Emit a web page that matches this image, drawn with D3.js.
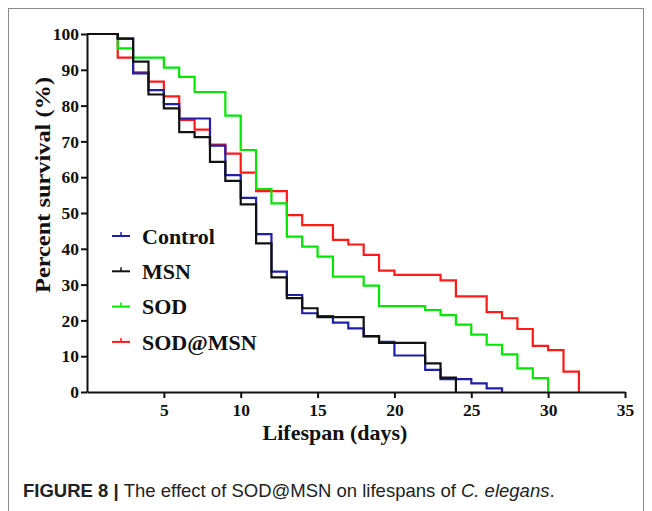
<!DOCTYPE html>
<html>
<head>
<meta charset="utf-8">
<script src="https://cdn.jsdelivr.net/npm/d3@7"></script>
<style>
  body { margin: 0; background: #fff; }
  .axis text { font-family: "Liberation Serif", "Times New Roman", serif; font-weight: bold; font-size: 17.5px; fill: #111; }
  .axis path, .axis line { stroke: #111; stroke-width: 2px; }
</style>
</head>
<body>
<div id="chart"></div>
<script>
// survival curves: [day, percent survival]
const control = [[0,100],[2,98.7],[3,89.0],[4,84.3],[5,80.4],[6,76.4],[8,68.8],[9,60.6],[10,54.2],[11,44.1],[12,33.6],[13,27.1],[14,22.0],[15,21.2],[16,19.4],[17,17.8],[18,15.5],[19,14.0],[20,10.2],[22,6.2],[23,3.6],[25,2.4],[26,1.0],[27,0]];
const msn = [[0,100],[2,98.7],[3,92.3],[4,83.1],[5,79.2],[6,72.6],[7,71.2],[8,64.3],[9,59.0],[10,52.4],[11,41.5],[12,32.0],[13,26.2],[14,23.4],[15,20.9],[18,15.6],[19,13.7],[22,8.0],[23,4.0],[24,0]];
const sod = [[0,100],[2,96.0],[3,93.4],[5,90.6],[6,88.0],[7,83.8],[9,77.2],[10,67.6],[11,56.7],[12,52.7],[13,43.4],[14,40.6],[15,37.8],[16,32.2],[18,29.7],[19,24.0],[22,22.9],[23,21.5],[24,18.8],[25,16.0],[26,13.2],[27,10.5],[28,6.6],[29,3.9],[30,0]];
const sodMsn = [[0,100],[2,93.4],[3,89.3],[4,86.7],[5,82.6],[6,76.0],[7,73.3],[8,69.1],[9,66.6],[10,61.3],[11,56.1],[13,49.4],[14,46.6],[16,42.5],[17,41.2],[18,38.3],[19,33.9],[20,32.7],[23,31.2],[24,26.7],[26,22.3],[27,20.6],[28,17.6],[29,12.9],[30,11.7],[31,5.7],[32,0]];

const seriesNames = ["Control", "MSN", "SOD", "SOD@MSN"];
const seriesColors = ["#1f1fa8", "#111111", "#00e600", "#ff1a1a"];
const xTicks = [5, 10, 15, 20, 25, 30, 35];
const yTicks = [0, 10, 20, 30, 40, 50, 60, 70, 80, 90, 100];

const W = 652, H = 511;
const margin = {top: 34, right: 27, bottom: 119, left: 87};

const svg = d3.select("#chart").append("svg")
  .attr("width", W)
  .attr("height", H);

// figure frame
svg.append("rect")
  .attr("x", 8.5).attr("y", 8.5)
  .attr("width", 635).attr("height", 530)
  .attr("fill", "none")
  .attr("stroke", "#8c8c8c")
  .attr("stroke-width", 1);

const x = d3.scaleLinear().domain([0, 35]).range([margin.left, W - margin.right]);
const y = d3.scaleLinear().domain([0, 100]).range([H - margin.bottom, margin.top]);

// lines (drawn so that black sits on top, as in the figure)
const line = d3.line()
  .x(d => x(d[0]))
  .y(d => y(d[1]))
  .curve(d3.curveStepAfter);

const drawOrder = [3, 2, 0, 1];
const allSeries = [control, msn, sod, sodMsn];
drawOrder.forEach(i => {
  svg.append("path")
    .datum(allSeries[i])
    .attr("fill", "none")
    .attr("stroke", seriesColors[i])
    .attr("stroke-width", 2.2)
    .attr("d", line);
});

// axes
svg.append("g")
  .attr("class", "axis")
  .attr("transform", `translate(0,${y(0)})`)
  .call(d3.axisBottom(x).tickValues(xTicks).tickSize(6).tickSizeOuter(0).tickPadding(6));

svg.append("g")
  .attr("class", "axis")
  .attr("transform", `translate(${x(0)},0)`)
  .call(d3.axisLeft(y).tickValues(yTicks).tickSize(6).tickSizeOuter(0).tickPadding(2));

// axis titles
svg.append("text")
  .attr("x", 335)
  .attr("y", 440)
  .attr("text-anchor", "middle")
  .attr("font-family", "Liberation Serif, Times New Roman, serif")
  .attr("font-weight", "bold")
  .attr("font-size", 22)
  .attr("fill", "#111")
  .text("Lifespan (days)");

svg.append("text")
  .attr("transform", "translate(50,185) rotate(-90)")
  .attr("text-anchor", "middle")
  .attr("font-family", "Liberation Serif, Times New Roman, serif")
  .attr("font-weight", "bold")
  .attr("font-size", 22)
  .attr("fill", "#111")
  .attr("textLength", 216)
  .attr("lengthAdjust", "spacingAndGlyphs")
  .text("Percent survival (%)");

// legend
const legend = svg.append("g")
  .selectAll("g")
  .data(seriesNames)
  .join("g")
  .attr("transform", (d, i) => `translate(112,${236 + i * 35.3})`);

legend.append("line")
  .attr("x1", 0).attr("x2", 18)
  .attr("y1", 0).attr("y2", 0)
  .attr("stroke", (d, i) => seriesColors[i])
  .attr("stroke-width", 2);

legend.append("line")
  .attr("x1", 9).attr("x2", 9)
  .attr("y1", 0).attr("y2", -4)
  .attr("stroke", (d, i) => seriesColors[i])
  .attr("stroke-width", 1.5);

legend.append("text")
  .attr("x", 30)
  .attr("y", 0)
  .attr("dy", "0.35em")
  .attr("font-family", "Liberation Serif, Times New Roman, serif")
  .attr("font-weight", "bold")
  .attr("font-size", 22)
  .attr("fill", "#111")
  .text(d => d);

// caption
const cap = svg.append("text")
  .attr("x", 23)
  .attr("y", 497)
  .attr("font-family", "Liberation Sans, Arial, sans-serif")
  .attr("font-size", 18.5)
  .attr("fill", "#222");
cap.append("tspan").attr("font-weight", "bold").text("FIGURE 8 | ");
cap.append("tspan").text("The effect of SOD@MSN on lifespans of ");
cap.append("tspan").attr("font-style", "italic").text("C. elegans");
cap.append("tspan").text(".");
</script>
</body>
</html>
